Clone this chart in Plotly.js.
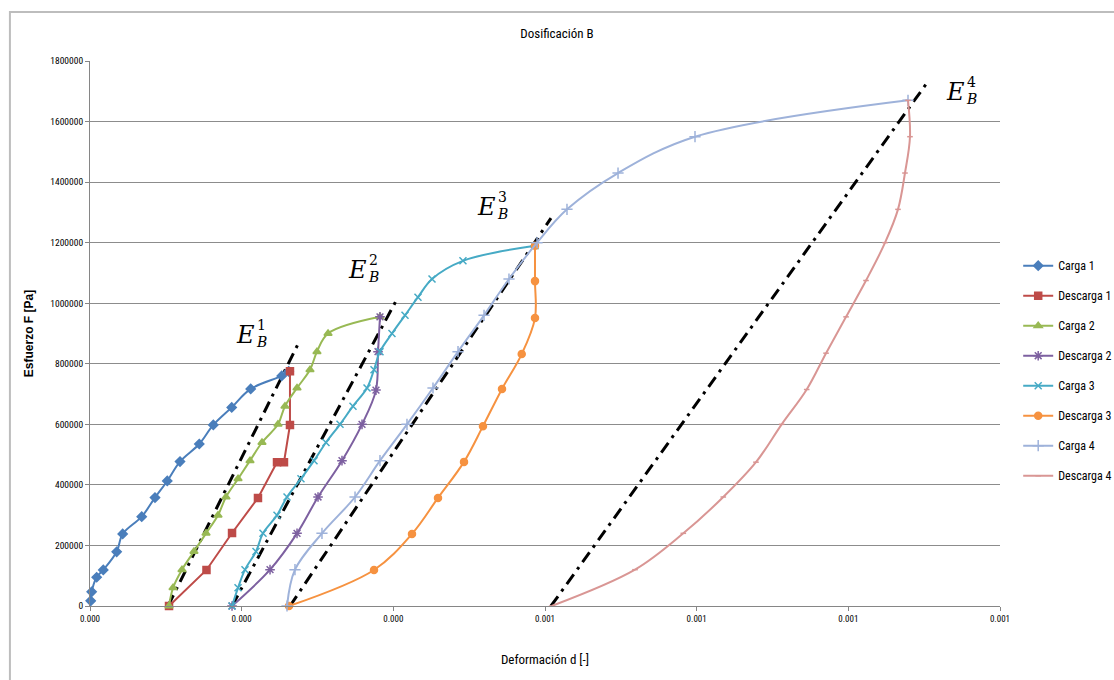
<!DOCTYPE html>
<html>
<head>
<meta charset="utf-8">
<script src="https://cdn.plot.ly/plotly-3.0.1.min.js"></script>
<style>html,body{margin:0;padding:0;background:#fff;}#chart{width:1114px;height:680px;}</style>
</head>
<body>
<div id="chart"></div>
<script>
// ---- data (strain [-], stress [Pa]) ----
const seriesNames = ["Carga 1","Descarga 1","Carga 2","Descarga 2","Carga 3","Descarga 3","Carga 4","Descarga 4"];

const xCarga1 = [0.9e-6, 2.2e-6, 8.8e-6, 17.5e-6, 35.2e-6, 43.1e-6, 68.2e-6, 85.7e-6, 101.9e-6, 118.7e-6, 144.1e-6, 162.6e-6, 186.9e-6, 211.9e-6, 252.8e-6, 262e-6];
const yCarga1 = [17000, 47000, 95000, 119000, 179000, 238000, 295000, 358000, 413000, 477000, 535000, 598000, 656000, 717000, 760000, 775000];

const xDescarga1 = [263.7e-6, 263.7e-6, 255.8e-6, 246.6e-6, 221.5e-6, 187.3e-6, 153.6e-6, 104.2e-6];
const yDescarga1 = [775000, 598000, 475000, 475000, 357000, 241000, 119000, 0];

const xCarga2 = [104.2e-6, 109.5e-6, 121.3e-6, 137.1e-6, 153.0e-6, 168.8e-6, 179.3e-6, 195.2e-6, 211.0e-6, 226.8e-6, 247.9e-6, 257.1e-6, 273.0e-6, 290.1e-6, 299.3e-6, 313.9e-6, 382.4e-6];
const yCarga2 = [0, 60000, 120000, 180000, 240000, 300000, 360000, 420000, 480000, 540000, 600000, 660000, 720000, 780000, 840000, 900000, 955000];

const xDescarga2 = [382.4e-6, 379.8e-6, 377.1e-6, 358.7e-6, 332.3e-6, 300.7e-6, 273.0e-6, 237.4e-6, 187.3e-6];
const yDescarga2 = [955000, 840000, 713000, 600000, 480000, 360000, 240000, 120000, 0];

const xCarga3 = [187.3e-6, 195.2e-6, 204.4e-6, 218.9e-6, 228.1e-6, 246.6e-6, 259.8e-6, 278.2e-6, 295.4e-6, 311.2e-6, 329.7e-6, 346.8e-6, 365.3e-6, 374.5e-6, 382.4e-6, 398.2e-6, 415.4e-6, 432.5e-6, 451.0e-6, 491.8e-6, 586.8e-6];
const yCarga3 = [0, 60000, 120000, 180000, 240000, 300000, 360000, 420000, 480000, 540000, 600000, 660000, 720000, 780000, 840000, 900000, 960000, 1020000, 1080000, 1140000, 1190000];

const xDescarga3 = [586.8e-6, 586.8e-6, 586.8e-6, 569.3e-6, 543.3e-6, 518.2e-6, 493.2e-6, 458.9e-6, 424.6e-6, 374.5e-6, 262.4e-6];
const yDescarga3 = [1190000, 1073000, 951000, 832000, 717000, 594000, 476000, 357000, 238000, 119000, 0];

const xCarga4 = [259.8e-6, 270.3e-6, 305.9e-6, 349.5e-6, 382.4e-6, 418.0e-6, 452.3e-6, 485.3e-6, 519.6e-6, 552.5e-6, 589.5e-6, 629.0e-6, 696.3e-6, 797.8e-6, 1078.7e-6];
const yCarga4 = [0, 120000, 240000, 360000, 480000, 600000, 720000, 840000, 960000, 1080000, 1200000, 1310000, 1430000, 1550000, 1670000];

const xDescarga4 = [1078.7e-6, 1081.3e-6, 1074.7e-6, 1065.5e-6, 1048.4e-6, 1023.3e-6, 997.0e-6, 970.6e-6, 945.1e-6, 912.1e-6, 878.2e-6, 835.1e-6, 782.4e-6, 718.7e-6, 608.8e-6];
const yDescarga4 = [1670000, 1550000, 1430000, 1310000, 1200000, 1075000, 955000, 835000, 715000, 600000, 475000, 360000, 240000, 120000, 0];

// modulus lines E_B^1..E_B^4
const xE1 = [102.9e-6, 276.9e-6], yE1 = [0, 878000];
const xE2 = [187.3e-6, 406.2e-6], yE2 = [0, 1020000];
const xE3 = [263.7e-6, 607.9e-6], yE3 = [0, 1281000];
const xE4 = [607.9e-6, 1106.4e-6], yE4 = [0, 1737000];

// labels
const labelIdx = ["1","2","3","4"];
const labelX = [204.4e-6, 352.1e-6, 522.2e-6, 1140.7e-6];
const labelY = [895000, 1110000, 1318000, 1698000];

const xTickVals = [0, 0.0002, 0.0004, 0.0006, 0.0008, 0.001, 0.0012];
const yTickVals = [0, 200000, 400000, 600000, 800000, 1000000, 1200000, 1400000, 1600000, 1800000];

// ---- styling ----
const narrow = "Liberation Sans Narrow, Arial Narrow, Roboto Condensed, Liberation Sans, Arial, sans-serif";
const styles = [
  {color:"#4A7EBB", symbol:"diamond", size:7},
  {color:"#BE4B48", symbol:"square", size:7},
  {color:"#98B954", symbol:"triangle-up", size:7},
  {color:"#7D60A0", symbol:"asterisk-open", size:8},
  {color:"#46AAC5", symbol:"x-thin-open", size:7},
  {color:"#F69240", symbol:"circle", size:7},
  {color:"#9EB2DA", symbol:"cross-thin-open", size:8},
  {color:"#D99694", symbol:"line-ew-open", size:4}
];
const xs = [xCarga1,xDescarga1,xCarga2,xDescarga2,xCarga3,xDescarga3,xCarga4,xDescarga4];
const ys = [yCarga1,yDescarga1,yCarga2,yDescarga2,yCarga3,yDescarga3,yCarga4,yDescarga4];

const traces = [];
const eX = [xE1,xE2,xE3,xE4], eY = [yE1,yE2,yE3,yE4];
for (let i=0;i<4;i++){
  traces.push({x:eX[i], y:eY[i], mode:"lines", showlegend:false, hoverinfo:"skip",
    line:{color:"#000", width:3, dash:"12px,6px,3px,6px"}});
}
for (let i=0;i<8;i++){
  const s = styles[i];
  traces.push({
    x: xs[i], y: ys[i], name: seriesNames[i], mode:"lines+markers", legendgroup:"g"+i,
    line:{color:s.color, width:2, shape: i===1 ? "linear" : "spline", smoothing:1},
    marker:{color:s.color, symbol:s.symbol, size:s.size, line:{color:s.color, width:1.5}},
    cliponaxis:false
  });
}

const annotations = [];
for (let i=0;i<4;i++){
  annotations.push({x:labelX[i], y:labelY[i], text:"<i>E</i>", showarrow:false, xanchor:"center", yanchor:"middle",
    font:{family:"DejaVu Serif, Liberation Serif, serif", size:24, color:"#000"}});
  annotations.push({x:labelX[i], y:labelY[i], text:labelIdx[i], showarrow:false, xanchor:"center", yanchor:"middle",
    xshift:16, yshift:10, font:{family:"DejaVu Serif, Liberation Serif, serif", size:14, color:"#000"}});
  annotations.push({x:labelX[i], y:labelY[i], text:"<i>B</i>", showarrow:false, xanchor:"center", yanchor:"middle",
    xshift:16, yshift:-7, font:{family:"DejaVu Serif, Liberation Serif, serif", size:14, color:"#000"}});
}

const layout = {
  width:1114, height:680,
  margin:{l:90, r:114, t:61, b:74, autoexpand:false},
  paper_bgcolor:"#fff", plot_bgcolor:"#fff",
  title:{text:"Dosificación B", x:0.5, xanchor:"center", y:0.951, yanchor:"middle",
    font:{family:narrow, size:13, color:"#000"}},
  xaxis:{range:[0,0.0012], tickvals:xTickVals, tickformat:".3f", showgrid:false, zeroline:false, automargin:false,
    showline:true, linecolor:"#868686", linewidth:1, ticks:"outside", ticklen:4, tickcolor:"#868686",
    tickfont:{family:narrow, size:9, color:"#000"},
    title:{text:"Deformación d [-]", font:{family:narrow, size:13, color:"#000"}, standoff:32}},
  yaxis:{range:[0,1800000], tickvals:yTickVals, tickformat:"d", showgrid:true, gridcolor:"#8C8C8C", gridwidth:1,
    zeroline:false, showline:true, linecolor:"#868686", linewidth:1, ticks:"outside", ticklen:4, tickcolor:"#868686",
    automargin:false, tickfont:{family:narrow, size:9.5, color:"#000"},
    title:{text:"<b>Esfuerzo F [Pa]</b>", font:{family:"Liberation Sans, Arial, sans-serif", size:12, color:"#000"}, standoff:14}},
  legend:{x:1.02, y:0.651, xanchor:"left", yanchor:"top", traceorder:"grouped", tracegroupgap:11,
    font:{family:narrow, size:12, color:"#000"}, bgcolor:"rgba(0,0,0,0)", itemwidth:30},
  annotations: annotations,
  shapes:[{type:"rect", xref:"paper", yref:"paper", x0:-0.088, x1:1.13, y0:-0.16, y1:1.09,
    line:{color:"#BDBDBD", width:2}, fillcolor:"rgba(0,0,0,0)", layer:"below"}]
};

Plotly.newPlot("chart", traces, layout, {displayModeBar:false, staticPlot:true});
</script>
</body>
</html>
